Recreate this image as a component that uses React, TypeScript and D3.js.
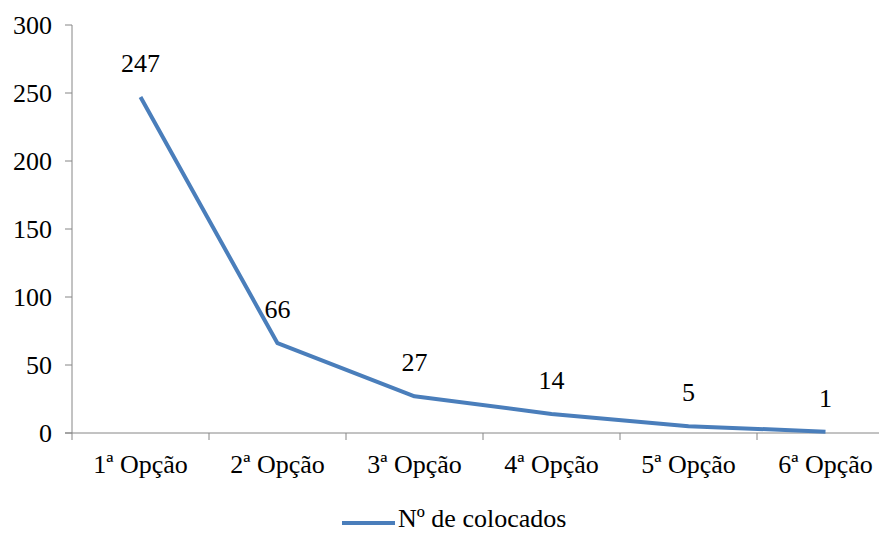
import React from 'react';
import * as d3 from 'd3';

const categories = ['1ª Opção', '2ª Opção', '3ª Opção', '4ª Opção', '5ª Opção', '6ª Opção'];
const values = [247, 66, 27, 14, 5, 1];
const yTicks = [0, 50, 100, 150, 200, 250, 300];
const seriesName = 'Nº de colocados';

const W = 879;
const H = 535;
const FONT = 'Liberation Serif';
const BLUE = '#4A7EBB';
const AXIS = '#868686';
const FS = 26;

const left = 72;
const top = 25;
const bottom = 433;
const bandW = 137;

const x = d3
	.scaleBand()
	.domain(categories)
	.range([left, left + bandW * categories.length])
	.padding(0);
const y = d3.scaleLinear().domain([0, 300]).range([bottom, top]);
const cx = (c: string) => (x(c) as number) + bandW / 2;

const line = d3
	.line<number>()
	.x((d, i) => cx(categories[i]))
	.y((d) => y(d));

// text helper so every label carries its own font
const T: React.FC<{ x: number; y: number; anchor?: string; children: React.ReactNode }> = ({
	x,
	y,
	anchor = 'start',
	children,
}) => (
	<text x={x} y={y} textAnchor={anchor} fontFamily={FONT} fontSize={FS} fill="#000">
		{children}
	</text>
);

const App: React.FC = () => {
	return (
		<svg width={W} height={H} style={{ position: 'absolute', left: 0, top: 0, background: '#fff' }}>
			{/* y axis */}
			<line x1={left} x2={left} y1={top} y2={bottom} stroke={AXIS} />
			{yTicks.map((t) => (
				<g key={t}>
					<line x1={left - 7} x2={left} y1={y(t)} y2={y(t)} stroke={AXIS} />
					<T x={52} y={y(t) + 9} anchor="end">
						{t}
					</T>
				</g>
			))}

			{/* x axis */}
			<line x1={left - 7} x2={W} y1={bottom} y2={bottom} stroke={AXIS} />
			{categories.map((c) => (
				<g key={c}>
					<line x1={x(c)} x2={x(c)} y1={bottom} y2={bottom + 7} stroke={AXIS} />
					<T x={cx(c)} y={473} anchor="middle">
						{c}
					</T>
				</g>
			))}

			<path d={line(values) || ''} fill="none" stroke={BLUE} strokeWidth={4} strokeLinejoin="round" />

			{values.map((v, i) => (
				<T key={i} x={cx(categories[i])} y={y(v) - 25} anchor="middle">
					{v}
				</T>
			))}

			{/* legend */}
			<line x1={342} x2={395} y1={523} y2={523} stroke={BLUE} strokeWidth={4} />
			<T x={398} y={527}>
				{seriesName}
			</T>
		</svg>
	);
};

export default App;
